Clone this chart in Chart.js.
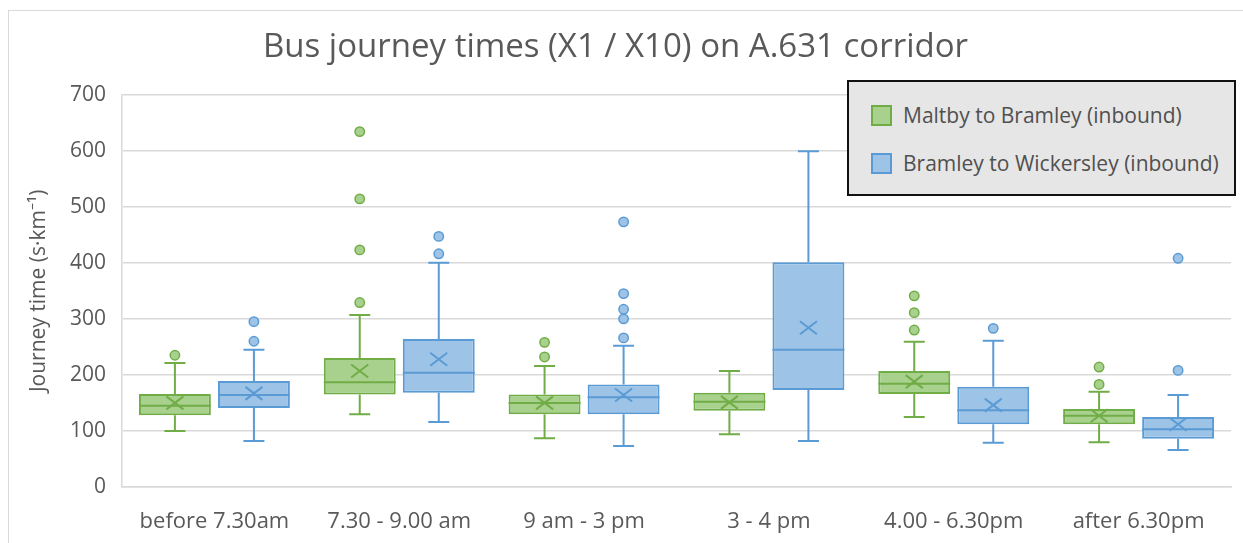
<!DOCTYPE html>
<html>
<head>
<meta charset="utf-8">
<script src="https://cdn.jsdelivr.net/npm/chart.js@4.4.1/dist/chart.umd.min.js"></script>
<style>
  html, body { margin: 0; padding: 0; background: #fff; }
  #wrap { position: relative; width: 1243px; height: 543px; overflow: hidden; }
  #frame { position: absolute; left: 8px; top: 10px; width: 1300px; height: 600px;
           border: 1px solid #d9d9d9; box-sizing: border-box; }
  canvas { position: absolute; left: 0; top: 0; }
  #legend { position: absolute; left: 847px; top: 80px; width: 389px; height: 116px;
            background: #e7e6e6; border: 2px solid #111; box-sizing: border-box;
            font-family: "Open Sans", sans-serif; font-size: 21px; color: #505050; }
  #legend .item { position: absolute; left: 22px; display: flex; align-items: center; }
  #legend .sw { width: 17px; height: 17px; border: 2px solid; margin-right: 11px; }
</style>
</head>
<body>
<div id="wrap">
  <div id="frame"></div>
  <canvas id="chart" width="1243" height="543"></canvas>
  <div id="legend"></div>
</div>
<script>
// ── DATA ──
const categories = ["before 7.30am", "7.30 - 9.00 am", "9 am - 3 pm", "3 - 4 pm", "4.00 - 6.30pm", "after 6.30pm"];
const yTicks = [0, 100, 200, 300, 400, 500, 600, 700];

// Maltby to Bramley (inbound)
const maltbyMin      = [100, 130,  87,  94, 125,  80];
const maltbyQ1       = [128, 165, 130, 136, 166, 112];
const maltbyMedian   = [145, 187, 150, 152, 184, 127];
const maltbyQ3       = [166, 230, 165, 168, 207, 139];
const maltbyMax      = [221, 307, 216, 207, 259, 170];
const maltbyMean     = [150, 207, 150, 151, 188, 127];
const maltbyOutliers = [[235], [329, 423, 514, 634], [232, 258], [], [280, 311, 341], [183, 214]];

// Bramley to Wickersley (inbound)
const bramleyMin      = [ 82, 116,  73,  82,  79,  66];
const bramleyQ1       = [141, 168, 130, 173, 112,  86];
const bramleyMedian   = [164, 204, 160, 245, 137, 103];
const bramleyQ3       = [189, 264, 183, 401, 179, 125];
const bramleyMax      = [245, 400, 252, 599, 261, 164];
const bramleyMean     = [167, 228, 164, 284, 146, 112];
const bramleyOutliers = [[260, 295], [416, 447], [266, 300, 317, 345, 473], [], [283], [208, 408]];

const GREEN = { fill: "#a9d18e", line: "#70ad47" };
const BLUE  = { fill: "#9dc3e6", line: "#5b9bd5" };

const series = [
  { label: "Maltby to Bramley (inbound)", col: GREEN,
    min: maltbyMin, q1: maltbyQ1, med: maltbyMedian, q3: maltbyQ3, max: maltbyMax, mean: maltbyMean, out: maltbyOutliers },
  { label: "Bramley to Wickersley (inbound)", col: BLUE,
    min: bramleyMin, q1: bramleyQ1, med: bramleyMedian, q3: bramleyQ3, max: bramleyMax, mean: bramleyMean, out: bramleyOutliers }
];

const FONT = "'Open Sans', sans-serif";
const TEXT = "#595959";

// ── whiskers, medians, means, outliers on top of the floating bars ──
const boxExtras = {
  id: "boxExtras",
  afterDatasetsDraw(chart) {
    const ctx = chart.ctx;
    const y = chart.scales.y;
    series.forEach((s, di) => {
      const meta = chart.getDatasetMeta(di);
      meta.data.forEach((bar, i) => {
        const x = bar.x, hw = bar.width / 2, cap = 10.5;
        ctx.save();
        ctx.strokeStyle = s.col.line;
        ctx.lineWidth = 2;
        ctx.beginPath();
        // upper whisker
        ctx.moveTo(x, y.getPixelForValue(s.q3[i]));
        ctx.lineTo(x, y.getPixelForValue(s.max[i]));
        ctx.moveTo(x - cap, y.getPixelForValue(s.max[i]));
        ctx.lineTo(x + cap, y.getPixelForValue(s.max[i]));
        // lower whisker
        ctx.moveTo(x, y.getPixelForValue(s.q1[i]));
        ctx.lineTo(x, y.getPixelForValue(s.min[i]));
        ctx.moveTo(x - cap, y.getPixelForValue(s.min[i]));
        ctx.lineTo(x + cap, y.getPixelForValue(s.min[i]));
        // median
        ctx.moveTo(x - hw, y.getPixelForValue(s.med[i]));
        ctx.lineTo(x + hw, y.getPixelForValue(s.med[i]));
        ctx.stroke();
        // mean cross
        const my = y.getPixelForValue(s.mean[i]);
        ctx.beginPath();
        ctx.moveTo(x - 8.5, my - 6.5); ctx.lineTo(x + 8.5, my + 6.5);
        ctx.moveTo(x - 8.5, my + 6.5); ctx.lineTo(x + 8.5, my - 6.5);
        ctx.stroke();
        // outliers
        ctx.lineWidth = 1.5;
        ctx.fillStyle = s.col.fill;
        s.out[i].forEach(v => {
          ctx.beginPath();
          ctx.arc(x, y.getPixelForValue(v), 4.7, 0, Math.PI * 2);
          ctx.fill();
          ctx.stroke();
        });
        ctx.restore();
      });
    });
  }
};

new Chart(document.getElementById("chart"), {
  type: "bar",
  data: {
    labels: categories,
    datasets: series.map(s => ({
      label: s.label,
      data: s.q1.map((v, i) => [v, s.q3[i]]),
      backgroundColor: s.col.fill,
      borderColor: s.col.line,
      borderWidth: 2,
      borderSkipped: false,
      categoryPercentage: 0.855,
      barPercentage: 0.91
    }))
  },
  options: {
    responsive: false,
    animation: false,
    layout: { padding: { left: 0, right: 12, top: 0, bottom: 0 } },
    plugins: {
      legend: { display: false },
      tooltip: { enabled: false },
      title: {
        display: true,
        text: "Bus journey times (X1 / X10) on A.631 corridor",
        color: TEXT,
        font: { family: FONT, size: 33, weight: "normal", lineHeight: 1.2 },
        padding: { top: 28, bottom: 27 }
      }
    },
    scales: {
      x: {
        grid: { display: false, drawTicks: false },
        border: { display: true, color: "#d9d9d9", width: 1.5 },
        ticks: { color: TEXT, font: { family: FONT, size: 22 }, padding: 22, maxRotation: 0 },
        afterFit(scale) { scale.height = 56; }
      },
      y: {
        min: 0, max: 700,
        afterBuildTicks(scale) { scale.ticks = yTicks.map(v => ({ value: v })); },
        grid: { color: "#d9d9d9", lineWidth: 1.5, drawTicks: false },
        border: { display: true, color: "#d9d9d9", width: 1.5 },
        ticks: { color: TEXT, font: { family: FONT, size: 21 }, padding: 16 },
        title: {
          display: true,
          text: "Journey time (s·km⁻¹)",
          color: TEXT,
          font: { family: FONT, size: 21, lineHeight: 1.2 },
          padding: { top: 26, bottom: 0 }
        },
        afterFit(scale) { scale.width = 122; }
      }
    }
  },
  plugins: [boxExtras]
});

// ── legend box ──
const legend = document.getElementById("legend");
series.forEach((s, i) => {
  const item = document.createElement("div");
  item.className = "item";
  item.style.top = (i === 0 ? 19 : 67) + "px";
  item.innerHTML = `<span class="sw" style="background:${s.col.fill};border-color:${s.col.line}"></span><span>${s.label}</span>`;
  legend.appendChild(item);
});
</script>
</body>
</html>
